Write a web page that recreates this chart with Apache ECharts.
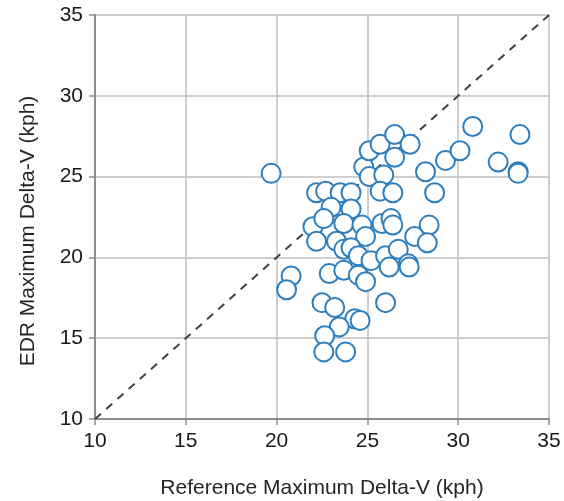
<!DOCTYPE html>
<html>
<head>
<meta charset="utf-8">
<script src="https://cdn.jsdelivr.net/npm/echarts@6/dist/echarts.min.js"></script>
<style>html,body{margin:0;padding:0;background:#fff}#c{width:564px;height:501px}</style>
</head>
<body>
<div id="c"></div>
<script>
const xTitle = "Reference Maximum Delta-V (kph)";
const yTitle = "EDR Maximum Delta-V (kph)";
const axisMin = 10, axisMax = 35, axisStep = 5;
const refX = [19.7,22.2,22.7,23.5,24.1,23.0,24.1,24.8,25.1,25.1,25.7,26.5,27.35,26.5,25.9,25.7,26.4,28.2,28.7,29.3,30.1,30.8,32.2,33.4,33.3,33.3,
  22.0,22.6,22.2,23.7,24.7,23.3,24.9,23.7,24.1,24.5,25.2,25.8,26.3,26.4,26.0,26.7,26.2,27.25,27.3,27.6,28.4,28.3,22.9,23.7,24.5,24.9,20.8,20.55,
  22.5,23.2,24.3,24.6,23.45,22.65,22.6,23.8,26.0];
const edrY = [25.2,24.0,24.1,24.0,24.0,23.1,23.0,25.6,25.0,26.6,27.0,27.6,27.0,26.2,25.1,24.1,24.0,25.3,24.0,26.0,26.6,28.1,25.9,27.6,25.3,25.2,
  21.9,22.4,21.0,22.1,22.0,21.0,21.3,20.5,20.6,20.1,19.8,22.1,22.4,22.0,20.1,20.5,19.4,19.6,19.4,21.3,22.0,20.9,19.0,19.2,18.9,18.5,18.85,18.0,
  17.2,16.9,16.2,16.1,15.7,15.15,14.15,14.15,17.2];
const identityLine = [[10,10],[35,35]];

const pts = refX.map((x,i)=>[x, edrY[i]]);
const font = "'Liberation Sans', Arial, sans-serif";
const chart = echarts.init(document.getElementById('c'));
const axisCommon = {
  type:'value', min:axisMin, max:axisMax, interval:axisStep,
  nameLocation:'middle',
  axisLine:{show:true, lineStyle:{color:'#8c8c8c', width:2}},
  axisTick:{show:true, length:6, lineStyle:{color:'#8c8c8c', width:1.5}},
  axisLabel:{fontFamily:font, fontSize:21, color:'#1a1a1a'},
  splitLine:{show:true, lineStyle:{color:'#bfbfbf', width:1.5}}
};
chart.setOption({
  animation:false,
  backgroundColor:'#fff',
  grid:{left:95, right:15, top:15, bottom:82, containLabel:false, outerBoundsMode:'none'},
  xAxis:Object.assign({}, axisCommon, {name:xTitle, nameGap:59,
    nameTextStyle:{fontFamily:font, fontSize:21, color:'#262626'},
    axisLabel:Object.assign({}, axisCommon.axisLabel, {margin:12})}),
  yAxis:Object.assign({}, axisCommon, {name:yTitle, nameGap:56,
    nameTextStyle:{fontFamily:font, fontSize:21, color:'#262626', padding:[0,28,0,0]},
    axisLabel:Object.assign({}, axisCommon.axisLabel, {margin:12})}),
  series:[
    {type:'line', data:identityLine, symbol:'none', z:1,
     lineStyle:{color:'#404040', width:2, type:[8,7]}},
    {type:'scatter', data:pts, symbol:'circle', symbolSize:19, z:2,
     itemStyle:{color:'#ffffff', borderColor:'#2e7ebe', borderWidth:2, opacity:1}}
  ]
});
</script>
</body>
</html>
